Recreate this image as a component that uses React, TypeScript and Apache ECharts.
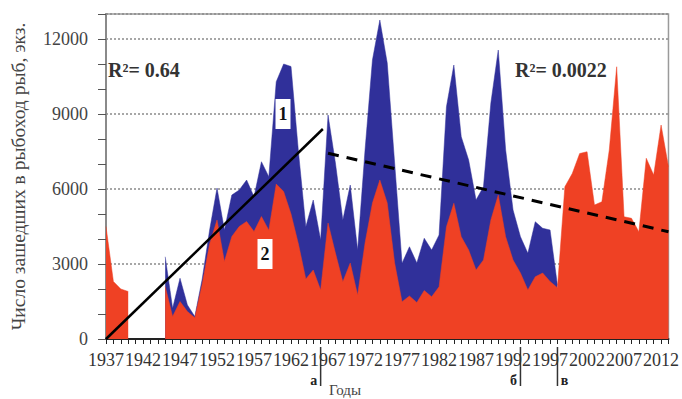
import React, { useEffect, useRef } from "react";
import * as echarts from "echarts";

const startYear = 1937;
const endYear = 2013;
const years: number[] = Array.from({ length: endYear - startYear + 1 }, (_, i) => startYear + i);

// Series 2 (red) — 1937..2013
const redValues: (number | null)[] = [
  4500, 2300, 2000, 1900, null, null, null, null,
  2100, 900, 1500, 1100, 850, 2200, 3800, 4760, 3100, 4100,
  4500, 4700, 4300, 4900, 4350, 6200, 5900, 5000, 3800, 2400,
  2760, 1960, 4640, 3440, 2290, 3040, 1760, 3840, 5440, 6360,
  5440, 3040, 1490, 1720, 1460, 1940, 1690, 2090, 4490, 5430,
  4090, 3560, 2760, 3160, 4760, 5760, 4090, 3160, 2640, 1960,
  2490, 2640, 2300, 2050, 6090, 6620, 7420, 7490, 5360, 5490,
  7560, 10890, 4890, 4830, 4290, 7230, 6560, 8560, 6890,
];

// Series 1 (blue) — 1937..2013
const blueValues: (number | null)[] = [
  null, null, null, null, null, null, null, null,
  3290, 1230, 2430, 1360, 900, 2400, 4360, 6040, 4360, 5760,
  5960, 6360, 5690, 7090, 6490, 10290, 11000, 10900, 7500, 4490,
  5560, 3960, 8960, 7040, 4760, 6160, 3560, 7560, 11160, 12760,
  11040, 7040, 3030, 3690, 3040, 4030, 3560, 4160, 9290, 10960,
  8090, 7160, 5560, 6090, 9440, 11560, 7560, 5160, 4090, 3430,
  4690, 4430, 4360, 2150, null, null, null, null, null, null,
  null, null, null, null, null, null, null, null, null,
];

// Trend lines [year, value]
const trendRising: [number, number][] = [[1937, 0], [1966.3, 8400]];
const trendFlat: [number, number][] = [[1967, 7430], [2013, 4290]];

const periodYears = [1966, 1993, 1998];
const periodLetters = ["а", "б", "в"];
const periodLetterSide = [-1, -1, 1];

const yTitle = "Число зашедших в рыбоход рыб, экз.";
const xTitle = "Годы";

const BLUE = "#30309a";
const RED = "#ef4124";
const SERIF = "'Liberation Serif', 'DejaVu Serif', serif";

export default function App() {
  const ref = useRef<HTMLDivElement>(null);
  useEffect(() => {
    if (!ref.current) return;
    const chart = echarts.init(ref.current, null, { renderer: "svg" });
    const toPairs = (vals: (number | null)[]) => years.map((y, i) => [y, vals[i]]);
    chart.setOption({
      animation: false,
      backgroundColor: "#fff",
      grid: {
        left: 100, right: 9, top: 14, bottom: 60,
        show: true, borderColor: "#9a9a9a", borderWidth: 1.5, backgroundColor: "#fff",
      },
      xAxis: {
        type: "value", min: startYear, max: endYear, interval: 1,
        axisLine: { onZero: false, lineStyle: { color: "#222", width: 2 } },
        axisTick: { show: true, length: 5, lineStyle: { color: "#222", width: 1 } },
        splitLine: { show: false },
        axisLabel: {
          formatter: (v: number) => ((v - startYear) % 5 === 0 ? String(v) : ""),
          fontFamily: SERIF, fontSize: 18, color: "#333", margin: 12,
        },
      },
      yAxis: [
        {
          type: "value", min: 0, max: 13000, interval: 1000,
          axisLine: { show: true, lineStyle: { color: "#8a8a8a", width: 2 } },
          axisTick: { show: true, length: 8, lineStyle: { color: "#555" } },
          splitLine: { show: false },
          axisLabel: {
            formatter: (v: number) => (v % 3000 === 0 ? String(v) : ""),
            fontFamily: SERIF, fontSize: 18, color: "#444", margin: 18,
          },
          name: yTitle, nameLocation: "middle", nameGap: 78, nameRotate: 90,
          nameTextStyle: { fontFamily: SERIF, fontSize: 19.5, color: "#444" },
        },
        {
          type: "value", min: 0, max: 13000, interval: 3000,
          axisLine: { show: false }, axisTick: { show: false }, axisLabel: { show: false },
          splitLine: { show: true, lineStyle: { type: [2, 2], color: "#8a8a8a", width: 1.5 } },
        },
      ],
      series: [
        {
          type: "line", data: toPairs(blueValues), symbol: "none", z: 2,
          lineStyle: { width: 0.5, color: BLUE }, areaStyle: { color: BLUE, opacity: 1 },
        },
        {
          type: "line", data: toPairs(redValues), symbol: "none", z: 3,
          lineStyle: { width: 0.5, color: RED }, areaStyle: { color: RED, opacity: 1 },
        },
        {
          type: "line", data: trendRising, symbol: "none", z: 5,
          lineStyle: { width: 2.5, color: "#000" },
        },
        {
          type: "line", data: trendFlat, symbol: "none", z: 5,
          lineStyle: { width: 3, color: "#000", type: [11, 8] },
        },
      ],
    });

    const axisY = chart.convertToPixel({ yAxisIndex: 0 }, 0) as number;
    const graphics: any[] = [];
    periodYears.forEach((yr, i) => {
      const px = chart.convertToPixel({ xAxisIndex: 0 }, yr) as number;
      graphics.push({
        type: "line", shape: { x1: px, y1: axisY + 8, x2: px, y2: axisY + 47 },
        style: { stroke: "#333", lineWidth: 1.5 }, z: 10,
      });
      graphics.push({
        type: "text", x: px + periodLetterSide[i] * 7, y: axisY + 41,
        style: {
          text: periodLetters[i], fill: "#222", font: `bold 14px ${SERIF}`,
          textAlign: "center", textVerticalAlign: "middle",
        },
        z: 10,
      });
    });
    graphics.push(
      { type: "text", x: 108, y: 70, style: { text: "R²= 0.64", fill: "#333", font: `bold 20px ${SERIF}`, textVerticalAlign: "middle" }, z: 10 },
      { type: "text", x: 515, y: 70, style: { text: "R²= 0.0022", fill: "#333", font: `bold 20px ${SERIF}`, textVerticalAlign: "middle" }, z: 10 },
      { type: "text", x: 283, y: 114, style: { text: "1", fill: "#111", font: `bold 18px ${SERIF}`, textAlign: "center", textVerticalAlign: "middle", backgroundColor: "#fff", padding: [6, 3] }, z: 10 },
      { type: "text", x: 265, y: 254, style: { text: "2", fill: "#111", font: `bold 18px ${SERIF}`, textAlign: "center", textVerticalAlign: "middle", backgroundColor: "#fff", padding: [6, 3] }, z: 10 },
      { type: "text", x: 345, y: 390, style: { text: xTitle, fill: "#444", font: `15px ${SERIF}`, textAlign: "center", textVerticalAlign: "middle" }, z: 10 },
    );
    chart.setOption({ graphic: graphics });

    return () => chart.dispose();
  }, []);
  return <div ref={ref} style={{ width: 682, height: 399, position: "absolute", left: 0, top: 0 }} />;
}
